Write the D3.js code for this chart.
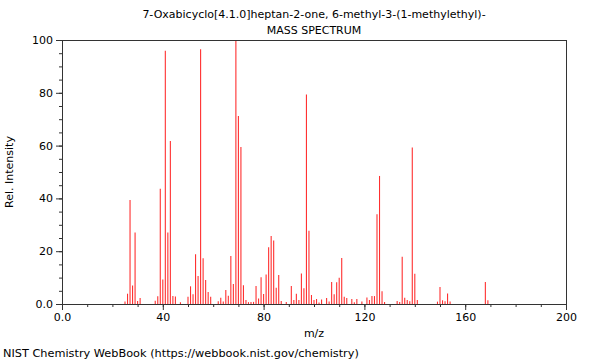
<!DOCTYPE html>
<html>
<head>
<meta charset="utf-8">
<script src="https://cdn.jsdelivr.net/npm/d3@7"></script>
<style>
  body { margin: 0; background: #fff; }
  svg { display: block; }
  text { font-family: "DejaVu Sans", sans-serif; fill: #000; }
</style>
</head>
<body>
<svg id="chart" width="600" height="360"></svg>
<script>
const titleLines = ["7-Oxabicyclo[4.1.0]heptan-2-one, 6-methyl-3-(1-methylethyl)-", "MASS SPECTRUM"];
const xLabel = "m/z";
const yLabel = "Rel. Intensity";
const footer = "NIST Chemistry WebBook (https://webbook.nist.gov/chemistry)";

const mz = [25, 26, 27, 28, 29, 30, 31, 37, 38, 39, 40, 41, 42, 43, 44, 45, 47,
  50, 51, 52, 53, 54, 55, 56, 57, 58, 59, 62, 63, 64, 65, 66, 67, 68, 69, 70, 71, 72, 73, 74, 75,
  76, 77, 78, 79, 80, 81, 82, 83, 84, 85, 86, 87, 89, 91, 92, 93, 94, 95, 96, 97, 98, 99, 100,
  101, 102, 103, 105, 106, 107, 108, 109, 110, 111, 112, 113, 115, 116, 117, 119, 121, 122, 123, 124,
  125, 126, 127, 128, 133, 134, 135, 136, 137, 138, 139, 140, 141, 149, 150, 151, 152, 153, 154, 168, 169];
const intensity = [0.9, 3.9, 39.4, 7.0, 27.1, 1.1, 2.3, 1.2, 2.9, 43.7, 9.3, 95.9, 27.1, 61.7, 3.0, 2.8, 0.7,
  2.7, 6.7, 3.7, 18.8, 10.6, 96.5, 17.3, 9.1, 4.5, 2.7, 1.0, 2.4, 0.9, 5.3, 3.1, 18.2, 7.6, 100, 71.2, 59.5, 7.1, 1.5, 0.7, 0.8,
  0.8, 6.8, 2.1, 10.1, 3.8, 11.2, 21.5, 25.8, 24.1, 6.2, 11.0, 1.1, 0.8, 6.8, 1.5, 3.9, 1.5, 11.6, 6.0, 79.4, 27.7, 3.4, 1.5,
  1.9, 0.6, 1.7, 2.3, 0.9, 8.3, 3.7, 8.2, 9.9, 17.4, 2.7, 2.3, 1.9, 0.7, 1.9, 0.9, 2.5, 1.5, 3.0, 3.0,
  34.0, 48.5, 4.8, 0.8, 1.1, 0.8, 17.9, 2.4, 1.5, 1.0, 59.3, 11.5, 1.5, 0.9, 6.4, 1.4, 1.0, 4.0, 0.9, 8.3, 1.4];

const xMajorTicks = [0, 40, 80, 120, 160, 200];
const yMajorTicks = [0, 20, 40, 60, 80, 100];

const svg = d3.select("#chart");
const mLeft = 62, mRight = 566, mTop = 40, mBottom = 304;
const x = d3.scaleLinear().domain([0, 200]).range([mLeft, mRight]);
const y = d3.scaleLinear().domain([0, 100]).range([mBottom, mTop]);
const fmt = d => d === 0 ? "0.0" : String(d);
const axisColor = "#333";

// peaks
svg.append("g").attr("class", "peaks").selectAll("line").data(mz).join("line")
  .attr("x1", d => x(d)).attr("x2", d => x(d))
  .attr("y1", y(0)).attr("y2", (d, i) => y(intensity[i]))
  .attr("stroke", "#ff3030").attr("stroke-width", 1.1);

// minor ticks
const gx = svg.append("g").attr("transform", `translate(0,${mBottom})`)
  .call(d3.axisBottom(x).tickValues(d3.range(0, 201, 10)).tickSize(3).tickFormat(""));
const gy = svg.append("g").attr("transform", `translate(${mLeft},0)`)
  .call(d3.axisLeft(y).tickValues(d3.range(0, 101, 5)).tickSize(3).tickFormat(""));
// major ticks
const gx2 = svg.append("g").attr("transform", `translate(0,${mBottom})`)
  .call(d3.axisBottom(x).tickValues(xMajorTicks).tickSize(6).tickPadding(3).tickFormat(fmt));
const gy2 = svg.append("g").attr("transform", `translate(${mLeft},0)`)
  .call(d3.axisLeft(y).tickValues(yMajorTicks).tickSize(6).tickPadding(3).tickFormat(fmt));
[gx, gy, gx2, gy2].forEach(g => {
  g.select(".domain").remove();
  g.selectAll("line").attr("stroke", axisColor);
  g.selectAll("text").attr("font-family", "DejaVu Sans").attr("font-size", 11).attr("fill", "#000");
});

// frame
svg.append("rect").attr("x", mLeft + 0.5).attr("y", mTop + 0.5)
  .attr("width", mRight - mLeft).attr("height", mBottom - mTop)
  .attr("fill", "none").attr("stroke", axisColor).attr("stroke-width", 1);

// titles
svg.selectAll("text.title").data(titleLines).join("text").attr("class", "title")
  .attr("x", (mLeft + mRight) / 2).attr("y", (d, i) => 18 + i * 16)
  .attr("text-anchor", "middle").attr("font-size", 11).text(d => d);

svg.append("text").attr("x", (mLeft + mRight) / 2).attr("y", 337)
  .attr("text-anchor", "middle").attr("font-size", 11).text(xLabel);
svg.append("text").attr("transform", `translate(13,${(mTop + mBottom) / 2}) rotate(-90)`)
  .attr("text-anchor", "middle").attr("font-size", 11).text(yLabel);
svg.append("text").attr("x", 3).attr("y", 357).attr("font-size", 11.3).text(footer);
</script>
</body>
</html>
